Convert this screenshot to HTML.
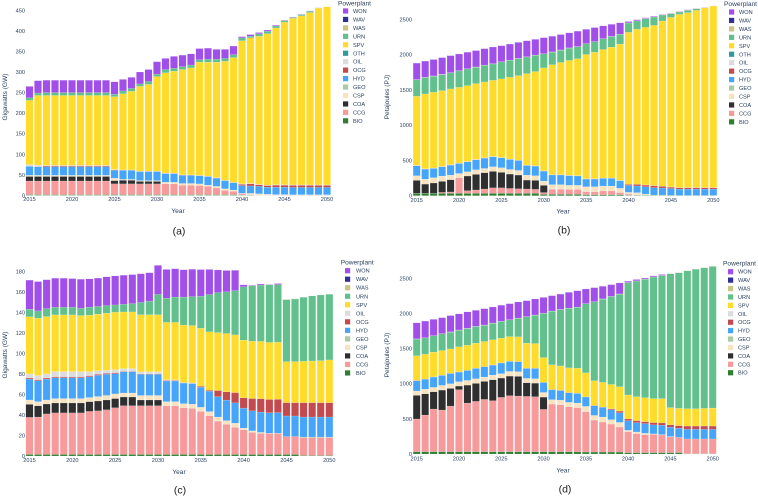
<!DOCTYPE html>
<html lang="en">
<head>
<meta charset="utf-8">
<title>Powerplant capacity and generation charts</title>
<style>
html,body{margin:0;padding:0;background:#fff;width:758px;height:496px;overflow:hidden}
svg{display:block;filter:blur(0.3px)}
text{font-family:"Liberation Sans",sans-serif;fill:#2a3f5f}
</style>
</head>
<body>
<svg id="figure" width="758" height="496" viewBox="0 0 758 496" xmlns="http://www.w3.org/2000/svg"></svg>
<script>
const years=[2015,2016,2017,2018,2019,2020,2021,2022,2023,2024,2025,2026,2027,2028,2029,2030,2031,2032,2033,2034,2035,2036,2037,2038,2039,2040,2041,2042,2043,2044,2045,2046,2047,2048,2049,2050];
const xTickLabels=[2015,2020,2025,2030,2035,2040,2045,2050];
const yTicksA=[0,50,100,150,200,250,300,350,400,450];
const yTicksB=[0,500,1000,1500,2000,2500];
const yTicksC=[0,20,40,60,80,100,120,140,160,180];
const yTicksD=[0,500,1000,1500,2000,2500];
const legendWithOth=['WON','WAV','WAS','URN','SPV','OTH','OIL','OCG','HYD','GEO','CSP','COA','CCG','BIO'];
const legendNoOth=['WON','WAV','WAS','URN','SPV','OIL','OCG','HYD','GEO','CSP','COA','CCG','BIO'];

/* Panel (a) gigawatts */
const aBIO=[2,2,2,2,2,2,2,2,2,2, 2,2,2,2,2,2,2,2,2,2, 2,2,2,2,2,1,1,.5,.5,.5, .5,.5,.5,.5,.5,.5];
const aCCG=[33,33,33,33,33,33,33,33,33,33, 26,26,26,26,26,26,26,26,23,23, 22,20,16,10,8,3,1,.5,.5,.5, .5,.5,.5,.5,.5,.5];
const aCOA=[11,11,11,11,11,11,11,11,11,11, 8,9,9,6,6,6,0,0,0,0, 0,0,0,0,0,0,0,0,0,0, 0,0,0,0,0,0];
const aCSP=[3,3,3,3,3,3,3,3,3,3, 6,2,2,2,2,2,4,4,4,4, 4,3,4,4,3,1,3,3,2,1, 1,.5,.5,.5,.5,.5];
const aGEO=[0,0,0,0,0,0,0,0,0,0, 0,0,0,0,0,0,0,0,0,0, 0,0,0,0,0,0,0,0,0,0, 0,0,0,0,0,0];
const aHYD=[22,21,21,21,21,21,21,21,21,21, 19,22,22,22,22,22,21,21,20,20, 20,21,20,20,18,19,18,18,17,18, 18,18,18,18,18,18];
const aOCG=[0,.5,2,2,2,2,2,2,2,2, 1,.5,.5,.5,.5,.5,1,1,.5,.5, .5,.5,.5,.5,.5,3,5,4,4,5, 5,5,5,5,5,5];
const aOIL=[4,3,1,1,1,1,1,1,1,1, 1,.5,.5,.5,.5,.5,.5,.5,.5,.5, .5,.5,.5,.5,.5,1,1,1,1,1, 1,1,1,1,1,1];
const aOTH=[0,0,0,0,0,0,0,0,0,0, 0,0,0,0,0,0,0,0,0,0, 0,0,0,0,0,0,0,0,0,0, 0,0,0,0,0,0];
const aSPV=[156,169.5,170,170,170,170,170,170,170,170, 177,185,191,206,211,230,243.5,247.5,256,260, 275,277,281,289,303,348,354,360,368,381, 395,405,411,419,430,433];
const aURN=[6,6,7,7,7,7,7,7,7,7, 6,7,7,6,7,6,8,7,7,7, 6,7,7,7,7,7,4,6,6,5, 4,2,3,3,0,0];
const aWAS=[0,0,0,0,0,0,0,0,0,0, 0,0,0,0,0,0,0,0,0,0, 0,0,0,0,0,0,0,0,0,0, 0,0,0,0,0,0];
const aWAV=[1,0,0,0,0,0,0,0,0,0, 0,0,0,0,0,0,0,0,0,0, 0,0,0,0,0,0,0,0,0,0, 0,0,0,0,0,0];
const aWON=[27,30,30,30,30,30,30,30,30,30, 30,28,27,29,29,30,27,29,28,27, 27,27,24,22,21,3,4,3,3,2, 1,1,1,1,.5,0];

/* Panel (b) petajoules */
const bBIO=[33,33,33,33,33,33,33,33,33,33, 33,33,33,33,33,20,20,20,20,20, 15,15,15,15,15,8,8,8,8,8, 8,4,4,4,4,4];
const bCCG=[3,3,3,14,20,222,38,48,62,78, 78,70,65,62,58,25,72,72,68,68, 42,42,52,52,30,15,5,0,0,0, 0,0,0,0,0,0];
const bCOA=[182,129,144,156,174,0,208,222,231,234, 220,204,195,127,127,102,0,0,0,0, 0,0,0,0,0,0,0,0,0,0, 0,0,0,0,0,0];
const bCSP=[65,70,75,75,65,60,60,65,60,65, 65,65,65,70,65,60,65,65,60,60, 70,70,70,70,60,25,30,15,2,2, 0,0,0,0,0,0];
const bGEO=[0,0,0,0,0,0,0,0,0,0, 0,0,0,0,0,0,0,0,0,0, 0,0,0,0,0,0,0,0,0,0, 0,0,0,0,0,0];
const bHYD=[142,142,132,132,142,142,142,142,147,142, 142,142,142,137,137,142,137,137,137,132, 109,109,109,109,109,99,95,104,104,99, 95,90,90,90,90,90];
const bOCG=[2,2,2,2,2,2,2,2,2,2, 2,2,2,2,2,2,2,2,2,2, 2,2,2,2,2,14,24,24,28,24, 19,19,19,19,19,19];
const bOIL=[3,3,3,3,3,3,3,3,3,3, 3,3,3,3,3,3,3,3,3,3, 3,3,3,3,3,2,2,2,2,2, 2,2,2,2,2,2];
const bOTH=[0,0,0,0,0,0,0,0,0,0, 0,0,0,0,0,0,0,0,0,0, 0,0,0,0,0,0,0,0,0,0, 0,0,0,0,0,0];
const bSPV=[979,1060,1074,1074,1074,1074,1074,1074,1074,1078, 1112,1159,1197,1296,1334,1457,1556,1589,1627,1656, 1760,1793,1821,1854,1930,2152,2195,2233,2270,2341, 2403,2455,2479,2512,2549,2573];
const bURN=[232,232,227,227,227,232,236,232,236,232, 241,241,241,236,232,199,180,175,175,170, 151,147,151,151,137,132,118,123,118,85, 52,33,33,24,2,0];
const bWAS=[4,3,3,3,3,3,3,3,3,3, 3,3,3,3,3,3,3,3,3,3, 3,3,3,3,3,3,3,3,3,3, 3,3,3,3,3,3];
const bWAV=[2,4,2,2,1,1,3,1,1,1, 0,0,0,0,0,0,0,0,0,0, 0,0,0,0,0,0,0,0,0,0, 0,0,0,0,0,0];
const bWON=[232,227,232,236,241,236,232,232,232,236, 227,227,227,227,222,227,222,218,213,218, 203,199,180,170,161,19,14,10,10,5, 5,5,5,2,2,0];

/* Panel (c) gigawatts */
const cBIO=[1.5,1.5,1.5,1.5,1.5,1.5,1.5,1.5,1.5,1.5, 1.5,1.5,1.5,1.5,1.5,1.5,1.5,1.5,1.5,1.5, 1.5,1.5,1.5,1.5,1.5,1.5,1.5,1.5,1.5,1.5, 1.5,1.5,.5,.5,.5,.5];
const cCCG=[36.2,36.5,39.5,40.5,40.5,40.5,40.5,42,42.5,43.5, 45.5,47.5,47.5,47.5,47.5,47.5,47.5,47.5,45.5,45, 42,37.8,32.5,29.5,26.5,24.2,21.5,20.5,20.5,20.5, 17.5,17.5,17.5,17.5,17.5,17.5];
const cCOA=[12.7,11,9.7,9.7,9.7,9.7,9.7,9.5,9.6,9.6, 9,8.5,8.5,5.6,5.6,5.6,0,0,0,0, 0,0,0,0,0,0,0,0,0,0, 0,0,0,0,0,0];
const cCSP=[4.2,4,3.9,4.3,4.3,4.3,4.3,4,4.4,4.4, 4.5,3.9,3.9,4.4,4.4,4.4,4,4,4,4, 4,4,4,3.5,4,1.5,1.5,1,.3,.3, 0,0,0,0,0,0];
const cGEO=[0,0,0,0,0,0,0,0,0,0, 0,0,0,0,0,0,0,0,0,0, 0,0,0,0,0,0,0,0,0,0, 0,0,.5,.5,.5,.5];
const cHYD=[20.4,20.4,20.4,20.3,20.3,20.3,20.3,20.3,20.6,20.6, 19.7,20.8,20.8,20.6,20.6,20.6,20.1,20.1,20.1,20.1, 19.5,19.8,19.8,20,19.8,19.5,19.5,19.8,19.8,20, 20,20,19.5,19.5,19.5,19.5];
const cOCG=[1,1,1,1,1,1,1,1,1,1, 1,.5,.5,.5,.5,.5,.5,.5,.3,.3, 1,1,6,8,10,10,12,13,13,13, 13,13,14,14,14,14];
const cOIL=[4,4,4,5,5,5,5,4,3.5,3, 3,2.5,2.5,2,2,2,.7,.7,.3,.3, 0,0,0,0,0,0,0,0,0,0, 0,0,0,0,0,0];
const cSPV=[55.6,55.9,55.9,55.2,55.2,55.2,54.6,54.9,55.2,55.6, 55.9,55.2,55.2,55.6,55.6,55.6,55.9,55.9,55.9,55.9, 56.5,56.9,56.5,56.9,56.2,56.2,55.9,55.9,55.6,55.6, 40,40,40.3,40.6,40.9,41.6];
const cURN=[7.5,7.1,7.5,7.5,7.5,7.5,7.1,7.8,7.5,7.5, 7.1,7.5,8.1,12,13.3,19.8,23.7,24.7,27.3,28.3, 31.2,36.4,39,40.6,43.2,52,53.9,54.9,56.2,56.2, 60.4,61,62.4,63.4,64,64];
const cWAS=[0,0,0,0,0,0,0,0,0,0, 0,0,0,0,0,0,0,0,0,0, 0,0,0,0,0,0,0,0,0,0, .3,.3,0,0,0,0];
const cWAV=[0,0,.5,0,0,0,0,0,0,0, 0,0,0,0,0,0,0,0,0,0, 0,0,0,0,0,0,0,0,0,0, 0,0,0,0,0,0];
const cWON=[28.3,28.6,27.9,28.3,28.3,27.9,28.3,27.6,27.6,27.9, 28.3,28.3,28.3,27.9,27.6,28.3,27.9,27.6,26.6,26.6, 26,24.4,22,20.8,19.8,1.9,.6,1,.3,1, 0,0,0,0,0,0];

/* Panel (d) petajoules */
const dBIO=[33,33,33,33,33,33,33,33,33,33, 33,33,33,33,33,33,33,33,33,33, 28,28,28,28,28,20,20,20,20,20, 20,20,5,5,5,5];
const dCCG=[465,521,607,593,649,882,692,716,744,725, 773,796,792,787,782,602,678,668,640,626, 574,455,427,398,356,299,270,256,261,251, 223,218,209,209,209,209];
const dCOA=[337,303,246,284,251,52,256,256,256,299, 275,280,280,194,194,175,0,0,0,0, 0,0,0,0,0,0,0,0,0,0, 0,0,0,0,0,0];
const dCSP=[62,66,62,66,66,62,66,66,62,66, 62,66,66,62,62,66,62,66,62,66, 76,66,71,62,66,19,24,19,5,5, 5,0,0,0,0,0];
const dGEO=[0,0,0,0,0,0,0,0,0,0, 0,0,0,0,0,0,0,0,0,0, 0,0,0,0,0,0,0,0,0,0, 0,0,0,0,0,0];
const dHYD=[147,142,147,142,147,137,142,147,147,142, 152,142,142,142,147,142,142,137,137,137, 133,137,137,142,137,137,133,137,128,133, 133,128,137,137,137,137];
const dOCG=[3,3,3,3,3,3,3,3,3,3, 3,3,3,3,3,3,3,3,3,3, 3,5,5,14,24,24,28,28,33,33, 33,38,47,47,47,47];
const dOIL=[0,0,0,0,0,0,0,0,0,0, 0,0,0,0,0,0,0,0,0,0, 0,0,0,0,0,0,0,0,0,0, 0,0,0,0,0,0];
const dSPV=[351,351,351,351,346,356,356,356,356,356, 351,351,351,356,351,351,351,346,351,356, 341,351,351,346,346,341,341,341,341,346, 246,246,246,246,251,256];
const dURN=[237,232,232,237,237,237,237,237,232,237, 237,237,265,374,403,630,763,801,848,867, 981,1123,1185,1251,1318,1597,1645,1687,1730,1749, 1905,1929,1962,1986,2000,2015];
const dWAS=[3,3,3,3,3,3,3,3,3,3, 3,3,3,3,3,3,3,3,3,3, 3,3,3,3,3,3,3,3,3,3, 3,3,3,3,3,3];
const dWAV=[0,0,0,0,3,0,2,0,0,0, 0,0,0,0,0,0,0,0,0,0, 0,0,0,0,0,0,0,0,0,0, 0,0,0,0,0,0];
const dWON=[228,237,232,228,232,228,232,228,232,228, 228,228,228,228,228,223,218,218,223,232, 209,199,180,166,156,19,19,14,14,14, 0,0,0,0,0,0];

const stackOrder=['BIO','CCG','COA','CSP','GEO','HYD','OCG','OIL','OTH','SPV','URN','WAS','WAV','WON'];
const colors={WON:'#a04fe9',WAV:'#2f2f96',WAS:'#cdc382',URN:'#61c08c',SPV:'#ffdc2c',OTH:'#2f9a98',OIL:'#dcdcdc',OCG:'#c34b50',HYD:'#46a5fb',GEO:'#a9cba3',CSP:'#f7e3bf',COA:'#2f2f2f',CCG:'#f69a9b',BIO:'#2f7f33'};

const panels=[
 {id:'a',caption:'(a)',yTitle:'Gigawatts (GW)',xFirst:29.5,xLast:327,yZero:195.4,yTop:10.3,yTopValue:450,ticks:yTicksA,yRight:25,yTitleX:5,yTitleY:97,xTickY:199.2,xTitleX:178,xTitleY:210.7,capX:179,capY:231,legend:legendWithOth,legTitleX:338,legTitleY:3,legSwatchX:343,legTextX:353,legFirstY:11,legStep:8.45,
  series:{BIO:aBIO,CCG:aCCG,COA:aCOA,CSP:aCSP,GEO:aGEO,HYD:aHYD,OCG:aOCG,OIL:aOIL,OTH:aOTH,SPV:aSPV,URN:aURN,WAS:aWAS,WAV:aWAV,WON:aWON}},
 {id:'b',caption:'(b)',yTitle:'Petajoules (PJ)',xFirst:416.7,xLast:713.3,yZero:195.7,yTop:19.3,yTopValue:2500,ticks:yTicksB,yRight:412,yTitleX:387,yTitleY:97,xTickY:200,xTitleX:563,xTitleY:211,capX:564,capY:230,legend:legendWithOth,legTitleX:724,legTitleY:3.5,legSwatchX:729,legTextX:739,legFirstY:12,legStep:8.45,
  series:{BIO:bBIO,CCG:bCCG,COA:bCOA,CSP:bCSP,GEO:bGEO,HYD:bHYD,OCG:bOCG,OIL:bOIL,OTH:bOTH,SPV:bSPV,URN:bURN,WAS:bWAS,WAV:bWAV,WON:bWON}},
 {id:'c',caption:'(c)',yTitle:'Gigawatts (GW)',xFirst:29.5,xLast:329.3,yZero:456,yTop:271.3,yTopValue:180,ticks:yTicksC,yRight:25,yTitleX:5,yTitleY:355,xTickY:460.2,xTitleX:179,xTitleY:471.7,capX:180,capY:490,legend:legendNoOth,legTitleX:340.7,legTitleY:262,legSwatchX:345,legTextX:356,legFirstY:270.7,legStep:8.52,
  series:{BIO:cBIO,CCG:cCCG,COA:cCOA,CSP:cCSP,GEO:cGEO,HYD:cHYD,OCG:cOCG,OIL:cOIL,SPV:cSPV,URN:cURN,WAS:cWAS,WAV:cWAV,WON:cWON}},
 {id:'d',caption:'(d)',yTitle:'Petajoules (PJ)',xFirst:416.7,xLast:712.7,yZero:454,yTop:278.3,yTopValue:2500,ticks:yTicksD,yRight:412,yTitleX:387,yTitleY:355,xTickY:458.7,xTitleX:563,xTitleY:470,capX:565,capY:489,legend:legendNoOth,legTitleX:723,legTitleY:263,legSwatchX:728,legTextX:738,legFirstY:271.7,legStep:8.42,
  series:{BIO:dBIO,CCG:dCCG,COA:dCOA,CSP:dCSP,GEO:dGEO,HYD:dHYD,OCG:dOCG,OIL:dOIL,SPV:dSPV,URN:dURN,WAS:dWAS,WAV:dWAV,WON:dWON}}
];

const NS='http://www.w3.org/2000/svg';
const root=document.getElementById('figure');
function make(tag,parent,attrs,txt){
  const el=document.createElementNS(NS,tag);
  for(const k in attrs){el.setAttribute(k,attrs[k]);}
  if(txt!==undefined){el.textContent=txt;}
  parent.appendChild(el);
  return el;
}
function xScale(p,year){
  return p.xFirst+(year-years[0])*(p.xLast-p.xFirst)/(years[years.length-1]-years[0]);
}
function yScale(p,value){
  return p.yZero-value*(p.yZero-p.yTop)/p.yTopValue;
}
panels.forEach(function(p){
  const g=make('g',root,{});
  
  
  const pitch=(p.xLast-p.xFirst)/(years.length-1);
  const barW=pitch*0.85;
  years.forEach(function(year,i){
    let acc=0;
    stackOrder.forEach(function(name){
      const arr=p.series[name];
      if(!arr){return;}
      const v=arr[i];
      if(v<=0){return;}
      const yA=yScale(p,acc);
      const yB=yScale(p,acc+v);
      const bar=make('rect',g,{x:(xScale(p,year)-barW/2).toFixed(2),y:yB.toFixed(2),width:barW.toFixed(2),height:(yA-yB).toFixed(2),fill:colors[name],stroke:'#ffffff','stroke-width':'0.25','stroke-opacity':'0.5'});
      
      
      acc+=v;
    });
  });
  p.ticks.forEach(function(t){
    const label=make('text',g,{x:p.yRight,y:yScale(p,t)+2,'text-anchor':'end','font-size':'5.6'},String(t));
    
    
  });
  xTickLabels.forEach(function(t){
    const label=make('text',g,{x:xScale(p,t),y:p.xTickY+2,'text-anchor':'middle','font-size':'5.6'},String(t));
    
    
  });
  const yTitle=make('text',g,{x:p.yTitleX,y:p.yTitleY,'text-anchor':'middle','font-size':'6.6',transform:'rotate(-90 '+p.yTitleX+' '+p.yTitleY+')','dominant-baseline':'middle'},p.yTitle);
  
  
  const xTitle=make('text',g,{x:p.xTitleX,y:p.xTitleY+2.3,'text-anchor':'middle','font-size':'6.6'},'Year');
  
  
  const cap=make('text',g,{x:p.capX,y:p.capY+3.5,'text-anchor':'middle','font-size':'10.5',style:'fill:#222'},p.caption);
  
  
  const legTitle=make('text',g,{x:p.legTitleX,y:p.legTitleY+2.4,'font-size':'6.6'},'Powerplant');
  
  
  p.legend.forEach(function(name,i){
    const cy=p.legFirstY+i*p.legStep;
    const entry=make('g',g,{});
    
    
    const sw=make('rect',entry,{x:p.legSwatchX,y:cy-2.6,width:5.2,height:5.2,fill:colors[name]});
    
    
    const tx=make('text',entry,{x:p.legTextX,y:cy+2,'font-size':'5.6'},name);
    
    
  });
});
</script>
</body>
</html>
